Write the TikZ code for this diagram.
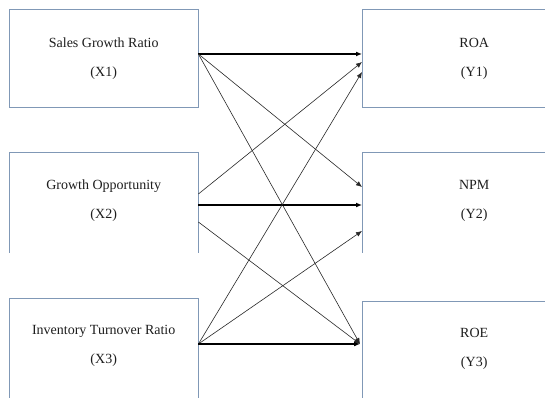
\documentclass[tikz,border=0pt]{standalone}
\usepackage{fontspec}
\setmainfont{Liberation Serif}
\usetikzlibrary{arrows.meta,calc}
\definecolor{boxc}{RGB}{128,152,182}
\definecolor{linec}{RGB}{40,40,40}
\definecolor{txtc}{RGB}{30,30,30}
\tikzset{
  boxnode/.style={draw=none, inner sep=0pt, anchor=north west, align=center,
    text=txtc, font=\fontsize{14}{17}\selectfont, minimum width=189pt},
  outline/.style={draw=boxc, line width=1pt},
  conn/.style={draw=linec, line width=0.6pt, -{Latex[length=6pt,width=5pt]}},
  hconn/.style={draw=black, line width=1.2pt, -{Latex[length=6pt,width=5pt]}},
}
\begin{document}
\begin{tikzpicture}[x=1pt,y=-1pt]
\clip (0,0) rectangle (545,398);
\fill[white] (0,0) rectangle (545,398);

% left boxes
\node[boxnode, minimum height=97.5pt] (x1) at (9,9.5) {Sales Growth Ratio\\[12pt](X1)};
\node[boxnode, minimum height=96pt] (x2) at (9,152.5) {Growth Opportunity\\[12pt](X2)};
\node[boxnode, minimum height=96pt] (x3) at (9,298) {Inventory Turnover Ratio\\[12pt](X3)};
% right boxes
\node[boxnode, minimum width=224pt, minimum height=97.5pt] (y1) at (362,9.5) {ROA\\[12pt](Y1)};
\node[boxnode, minimum width=224pt, minimum height=96pt] (y2) at (362,152.5) {NPM\\[12pt](Y2)};
\node[boxnode, minimum width=224pt, minimum height=96pt] (y3) at (362,301) {ROE\\[12pt](Y3)};

% outlines
\draw[outline] (x1.south west) rectangle (x1.north east);
\draw[outline] (y1.south west) rectangle (y1.north east);
\draw[outline] ([yshift=-4pt]x2.south west) -- (x2.north west) -- (x2.north east) -- ([yshift=-4pt]x2.south east);
\draw[outline] ([yshift=-4pt]y2.south west) -- (y2.north west) -- (y2.north east) -- ([yshift=-4pt]y2.south east);
\draw[outline] ([yshift=-20pt]x3.south west) -- (x3.north west) -- (x3.north east) -- ([yshift=-20pt]x3.south east);
\draw[outline] ([yshift=-20pt]y3.south west) -- (y3.north west) -- (y3.north east) -- ([yshift=-20pt]y3.south east);

% connection points
\coordinate (x1o) at (x1.east |- 0,54);
\coordinate (x2a) at (x2.east |- 0,194);
\coordinate (x2b) at (x2.east |- 0,205);
\coordinate (x2c) at (x2.east |- 0,222);
\coordinate (x3o) at (x3.east |- 0,344);
\coordinate (y1a) at (y1.west |- 0,54);
\coordinate (y1b) at (y1.west |- 0,62);
\coordinate (y1c) at (y1.west |- 0,72);
\coordinate (y2a) at (y2.west |- 0,187);
\coordinate (y2b) at (y2.west |- 0,205);
\coordinate (y2c) at (y2.west |- 0,231);
\coordinate (y3o) at ([xshift=-2pt]y3.west |- 0,344);

% connectors
\draw[hconn] (x1o) -- (y1a);
\draw[conn] (x1o) -- (y2a);
\draw[conn] (x1o) -- (y3o);
\draw[conn] (x2a) -- (y1b);
\draw[hconn] (x2b) -- (y2b);
\draw[conn] (x2c) -- (y3o);
\draw[conn] (x3o) -- (y1c);
\draw[conn] (x3o) -- (y2c);
\draw[hconn] (x3o) -- (y3o);
\end{tikzpicture}
\end{document}
